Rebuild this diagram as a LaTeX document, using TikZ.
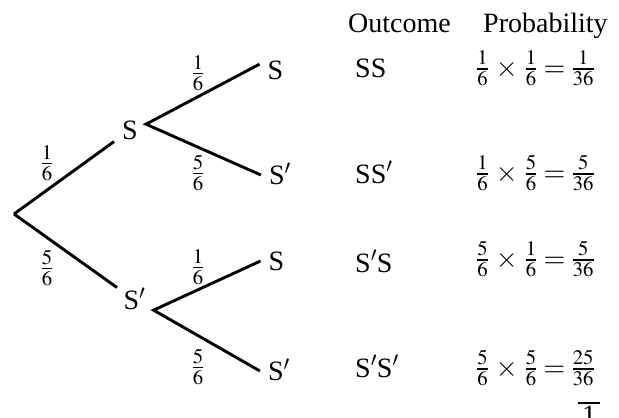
\documentclass[tikz,border=0pt]{standalone}
\usepackage{amsmath}
\usepackage{mathptmx}
\usepackage{fontspec}
\setmainfont{Liberation Serif}

\begin{document}
\begin{tikzpicture}[x=1pt, y=-1pt,
    every node/.style={font=\rmfamily\fontsize{28}{34}\selectfont},
    state/.style={inner xsep=8pt, inner ysep=3pt, text height=18.5pt, text depth=0pt},
    branch/.style={line width=2.9pt},
    txt/.style={inner sep=0pt, anchor=base west}]
    \useasboundingbox (0,0) rectangle (619,418);
    % tree
    \coordinate (root) at (14,214);
    \node[state] (s) at (130,130) {S};
    \node[state] (sp) at (134.5,300) {S$'$};
    \node[state] (ss) at (275.5,70) {S};
    \node[state] (ssp) at (280,175) {S$'$};
    \node[state] (sps) at (276.5,261) {S};
    \node[state] (spsp) at (279,371) {S$'$};
    \draw[branch] (root) -- (s);
    \draw[branch] (root) -- (sp);
    \draw[branch] (ss.160) -- (s.20) -- (ssp.west);
    \draw[branch] (sps.west) -- (sp.-28) -- (spsp.west);
    % branch probabilities
    \node[inner sep=0pt] (ps) at (47,163) {$\frac{1}{6}$};
    \node[inner sep=0pt] (psp) at (47,268) {$\frac{5}{6}$};
    \node[inner sep=0pt] (pss) at (198,73) {$\frac{1}{6}$};
    \node[inner sep=0pt] (pssp) at (198,173) {$\frac{5}{6}$};
    \node[inner sep=0pt] (psps) at (198,267) {$\frac{1}{6}$};
    \node[inner sep=0pt] (pspsp) at (198,367) {$\frac{5}{6}$};
    % table
    \node[txt] (hdrOut) at (348,32) {Outcome};
    \node[txt] (hdrProb) at (483,32) {Probability};
    \node[txt] (outSS) at (355,77) {SS};
    \node[txt] (outSSp) at (355,183) {SS$'$};
    \node[txt] (outSpS) at (355,272) {S$'$S};
    \node[txt] (outSpSp) at (355,377) {S$'$S$'$};
    \node[txt] (prSS) at (476,76) {$\frac{1}{6}\,\times\,\frac{1}{6}=\frac{1}{36}$};
    \node[txt] (prSSp) at (476,181) {$\frac{1}{6}\,\times\,\frac{5}{6}=\frac{5}{36}$};
    \node[txt] (prSpS) at (476,267) {$\frac{5}{6}\,\times\,\frac{1}{6}=\frac{5}{36}$};
    \node[txt] (prSpSp) at (476,376) {$\frac{5}{6}\,\times\,\frac{5}{6}=\frac{25}{36}$};
    \coordinate (sumL) at (578,403);
    \coordinate (sumR) at (600,403);
    \draw[line width=1.2pt] (sumL) -- (sumR);
    \node[inner sep=0pt, anchor=base] (total) at (589,424) {1};
\end{tikzpicture}
\end{document}
